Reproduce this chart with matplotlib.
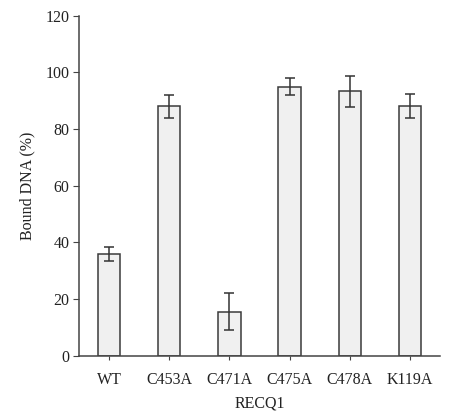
import matplotlib.pyplot as plt

# bound DNA for each RECQ1 variant
variants = ["WT", "C453A", "C471A", "C475A", "C478A", "K119A"]
bound = [36, 88, 15.5, 95, 93.3, 88.2]
err = [2.5, 4.1, 6.5, 3.0, 5.5, 4.3]

plt.rcParams['font.family'] = ['Liberation Serif', 'DejaVu Serif']

fig = plt.figure(figsize=(4.49, 4.15), dpi=100)
ax = fig.add_axes([0.176, 0.143, 0.804, 0.819])

x = range(len(variants))
ax.bar(x, bound, width=0.37, color="#f0f0f0", edgecolor="#3a3a3a", linewidth=1.1,
       yerr=err, error_kw=dict(ecolor="#333333", elinewidth=1.1, capsize=3.5, capthick=1.1))

ax.set_xlim(-0.5, 5.5)
ax.set_ylim(0, 120)
ax.set_yticks(range(0, 121, 20))
ax.set_xticks(list(x))
ax.set_xticklabels(variants)

for s in ["top", "right"]:
    ax.spines[s].set_visible(False)
for s in ["left", "bottom"]:
    ax.spines[s].set_color("#444444")
    ax.spines[s].set_linewidth(1.1)

ax.tick_params(axis="y", direction="out", length=4, color="#444444", labelsize=11.5, labelcolor="#222222", pad=3)
ax.tick_params(axis="x", direction="out", length=3, color="#444444", labelsize=11.5, labelcolor="#222222", pad=9)

ax.set_ylabel("Bound DNA (%)", fontsize=11.5, color="#222222", labelpad=7)
ax.set_xlabel("RECQ1", fontsize=11.5, color="#222222", labelpad=5)

fig.savefig("out.png", dpi=100)
